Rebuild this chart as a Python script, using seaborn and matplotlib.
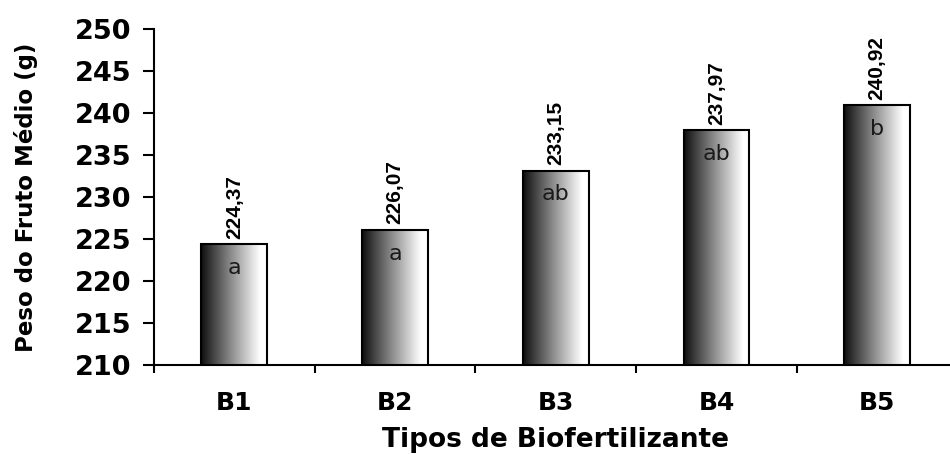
import numpy as np
import pandas as pd
import matplotlib
matplotlib.use("Agg")
import matplotlib.pyplot as plt
import seaborn as sns

categories = ["B1", "B2", "B3", "B4", "B5"]
values = [224.37, 226.07, 233.15, 237.97, 240.92]
value_labels = ["224,37", "226,07", "233,15", "237,97", "240,92"]
letters = ["a", "a", "ab", "ab", "b"]
y_ticks = [210, 215, 220, 225, 230, 235, 240, 245, 250]

sns.set_theme(style="white")
plt.rcParams["font.family"] = ["DejaVu Sans"]
plt.rcParams["text.color"] = "black"
plt.rcParams["axes.labelcolor"] = "black"
plt.rcParams["xtick.color"] = "black"
plt.rcParams["ytick.color"] = "black"

df = pd.DataFrame({"cat": categories, "val": values})

fig = plt.figure(figsize=(9.5, 4.54), dpi=100)
ax = fig.add_axes([0.162, 0.196, 0.846, 0.740])

sns.barplot(data=df, x="cat", y="val", ax=ax, width=0.41, color="white",
            edgecolor="black", linewidth=1.5, zorder=3)

ymin, ymax = 210, 250
ax.set_xlim(-0.5, 4.5)
ax.set_ylim(ymin, ymax)
ax.set_yticks(y_ticks)

# gradient fill clipped to each bar
xg = np.linspace(0, 1, 256)
grad = 0.05 + 0.95 * np.clip(xg / 0.9, 0, 1) ** 0.95
grad = grad.reshape(1, -1)
for p in ax.patches:
    x0, y0 = p.get_x(), p.get_y()
    w, h = p.get_width(), p.get_height()
    im = ax.imshow(grad, cmap="gray", vmin=0, vmax=1, aspect="auto",
                   extent=(x0, x0 + w, max(y0, ymin), y0 + h), zorder=2,
                   interpolation="bilinear")
    im.set_clip_path(p)
    p.set_facecolor("none")

ax.set_xlim(-0.5, 4.5)
ax.set_ylim(ymin, ymax)

for i, p in enumerate(ax.patches):
    cx = p.get_x() + p.get_width() / 2
    top = p.get_y() + p.get_height()
    ax.annotate(value_labels[i], (cx, top), xytext=(0, 4), textcoords="offset points",
                rotation=90, ha="center", va="bottom", fontsize=15, fontweight="bold",
                family=["Liberation Sans Narrow", "Liberation Sans", "DejaVu Sans"],
                zorder=5)
    ax.annotate(letters[i], (cx, top), xytext=(0, -17), textcoords="offset points",
                ha="center", va="center", fontsize=16, color="#1a1a1a",
                family=["DejaVu Sans"], zorder=5)

sns.despine(ax=ax, top=True, right=True)
for s in ["left", "bottom"]:
    ax.spines[s].set_linewidth(1.5)
    ax.spines[s].set_color("black")

ax.set_xticks(np.arange(-0.5, 5.0, 1.0), minor=True)
ax.tick_params(axis="x", which="minor", direction="out", length=6, width=1.5, color="black", bottom=True)
ax.tick_params(axis="x", which="major", length=0, pad=19, labelsize=18)
ax.tick_params(axis="y", which="major", direction="out", length=8, width=1.5, color="black",
               left=True, pad=8, labelsize=19.5)
for lab in ax.get_xticklabels() + ax.get_yticklabels():
    lab.set_fontweight("bold")

ax.set_xlabel("Tipos de Biofertilizante", fontsize=19, fontweight="bold", labelpad=8)
ax.set_ylabel("Peso do Fruto Médio (g)", fontsize=16.5, fontweight="bold", labelpad=27)
ax.grid(False)

fig.savefig("out.png", dpi=100)
